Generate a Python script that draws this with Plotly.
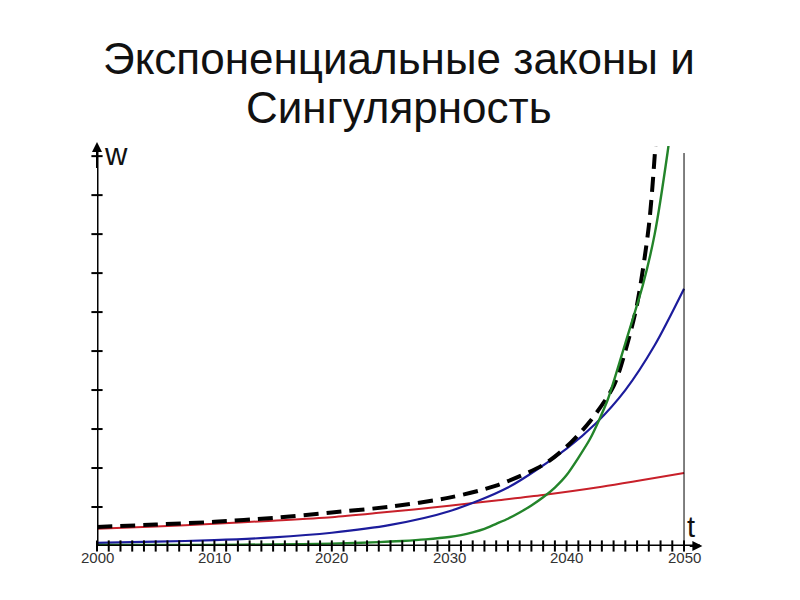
import plotly.graph_objects as go

# ---------------- data (y in axis tick units) ----------------
red_years = [2000, 2005, 2010, 2015, 2020, 2024, 2030, 2034, 2038, 2043, 2050]
red_vals = [0.44, 0.50, 0.57, 0.65, 0.74, 0.85, 1.03, 1.17, 1.31, 1.52, 1.87]

blue_years = [2000, 2005, 2010, 2015, 2020, 2025, 2030, 2035, 2040, 2042.5, 2045, 2047.5, 2050]
blue_vals = [0.08, 0.11, 0.15, 0.22, 0.34, 0.54, 0.89, 1.50, 2.50, 3.15, 4.00, 5.15, 6.60]

green_years = [2000, 2010, 2015, 2020, 2024, 2026, 2028, 2030, 2031, 2032, 2033, 2034,
               2035, 2036, 2037, 2038, 2039, 2040, 2042, 2043.5, 2045, 2046.5, 2047.5,
               2048.6, 2049.2]
green_vals = [0.03, 0.03, 0.04, 0.06, 0.10, 0.13, 0.17, 0.23, 0.28, 0.35, 0.44, 0.57,
              0.70, 0.86, 1.04, 1.25, 1.50, 1.82, 2.75, 3.75, 5.20, 6.70, 8.00,
              10.10, 11.50]

black_years = [2000, 2005, 2010, 2015, 2020, 2025, 2030, 2034, 2038, 2040, 2042, 2044,
               2045, 2046, 2047, 2047.5, 2048]
black_vals = [0.49, 0.55, 0.62, 0.72, 0.86, 1.01, 1.24, 1.55, 2.08, 2.55, 3.20, 4.10,
              5.00, 6.20, 8.20, 10.00, 12.50]

x_tick_years = list(range(2000, 2051))
x_label_years = [2000, 2010, 2020, 2030, 2040, 2050]
y_tick_vals = [1, 2, 3, 4, 5, 6, 7, 8, 9, 10]

title_line1 = "Экспоненциальные законы и"
title_line2 = "Сингулярность"

# ---------------- layout constants ----------------
X0, X1 = 2000, 2051.36
Y0, Y1 = 0, 10.26
Y_TOP_LINE = 10.08
PLOT_TOP, PLOT_BOTTOM = 146, 546   # window pixels (page body has an 8px margin)


def paper_y(px):
    return (PLOT_BOTTOM - px) / (PLOT_BOTTOM - PLOT_TOP)


fig = go.Figure()

fig.add_trace(go.Scatter(x=red_years, y=red_vals, mode="lines",
                         line=dict(color="#c8202a", width=2, shape="spline", smoothing=0.8),
                         hoverinfo="skip"))
fig.add_trace(go.Scatter(x=blue_years, y=blue_vals, mode="lines",
                         line=dict(color="#1c1c9c", width=2.2, shape="spline", smoothing=0.8),
                         hoverinfo="skip"))
fig.add_trace(go.Scatter(x=black_years, y=black_vals, mode="lines",
                         line=dict(color="black", width=4, dash="15px,8px", shape="spline", smoothing=0.8),
                         hoverinfo="skip"))
fig.add_trace(go.Scatter(x=green_years, y=green_vals, mode="lines",
                         line=dict(color="#23842a", width=2.4, shape="spline", smoothing=0.6),
                         hoverinfo="skip"))

# axis tick marks
fig.add_trace(go.Scatter(x=x_tick_years, y=[0] * len(x_tick_years), mode="markers",
                         marker=dict(symbol="line-ns-open", size=8, color="black",
                                     line=dict(color="black", width=2)),
                         cliponaxis=False, hoverinfo="skip"))
fig.add_trace(go.Scatter(x=[2000] * len(y_tick_vals), y=y_tick_vals, mode="markers",
                         marker=dict(symbol="line-ew-open", size=8, color="black",
                                     line=dict(color="black", width=2)),
                         cliponaxis=False, hoverinfo="skip"))

# axes lines
fig.add_shape(type="line", x0=2000, x1=X1, y0=0, y1=0, xref="x", yref="y",
              line=dict(color="black", width=3))
fig.add_shape(type="line", x0=2000, x1=2000, y0=0, y1=Y1, xref="x", yref="y",
              line=dict(color="black", width=3))
fig.add_shape(type="line", x0=2050, x1=2050, y0=0, y1=Y_TOP_LINE, xref="x", yref="y",
              line=dict(color="black", width=1))

# arrow heads
fig.add_annotation(x=X1 + 0.2, y=0, ax=X1 - 1.0, ay=0, xref="x", yref="y", axref="x", ayref="y",
                   showarrow=True, arrowhead=2, arrowsize=1, arrowwidth=2, arrowcolor="black", text="")
fig.add_annotation(x=2000, y=Y1 + 0.1, ax=2000, ay=Y1 - 0.6, xref="x", yref="y", axref="x", ayref="y",
                   showarrow=True, arrowhead=2, arrowsize=1, arrowwidth=2, arrowcolor="black", text="")

# axis names
fig.add_annotation(x=2000.45, y=10.05, xref="x", yref="y", text="w", showarrow=False,
                   xanchor="left", yanchor="middle",
                   font=dict(family="Liberation Sans", size=31, color="#111"))
fig.add_annotation(x=2050.05, y=0.5, xref="x", yref="y", text="t", showarrow=False,
                   xanchor="left", yanchor="middle",
                   font=dict(family="Liberation Sans", size=29, color="#111"))

# tick labels
for yr in x_label_years:
    fig.add_annotation(x=yr, y=0, xref="x", yref="y", text=str(yr), showarrow=False,
                       yanchor="top", yshift=-1,
                       font=dict(family="Liberation Sans", size=15, color="#333"))

# title
fig.add_annotation(x=0.5, y=paper_y(58), xref="paper", yref="paper", text=title_line1,
                   showarrow=False, xanchor="center", yanchor="middle",
                   font=dict(family="Liberation Sans", size=44, color="#111"))
fig.add_annotation(x=0.5, y=paper_y(107), xref="paper", yref="paper", text=title_line2,
                   showarrow=False, xanchor="center", yanchor="middle",
                   font=dict(family="Liberation Sans", size=44, color="#111"))

fig.update_layout(
    width=792, height=592,
    margin=dict(l=89, r=100, t=138, b=54, pad=0),
    paper_bgcolor="white", plot_bgcolor="white",
    showlegend=False,
    xaxis=dict(range=[X0, X1], visible=False, fixedrange=True),
    yaxis=dict(range=[Y0, Y1], visible=False, fixedrange=True),
)

fig.write_html("out.html")
